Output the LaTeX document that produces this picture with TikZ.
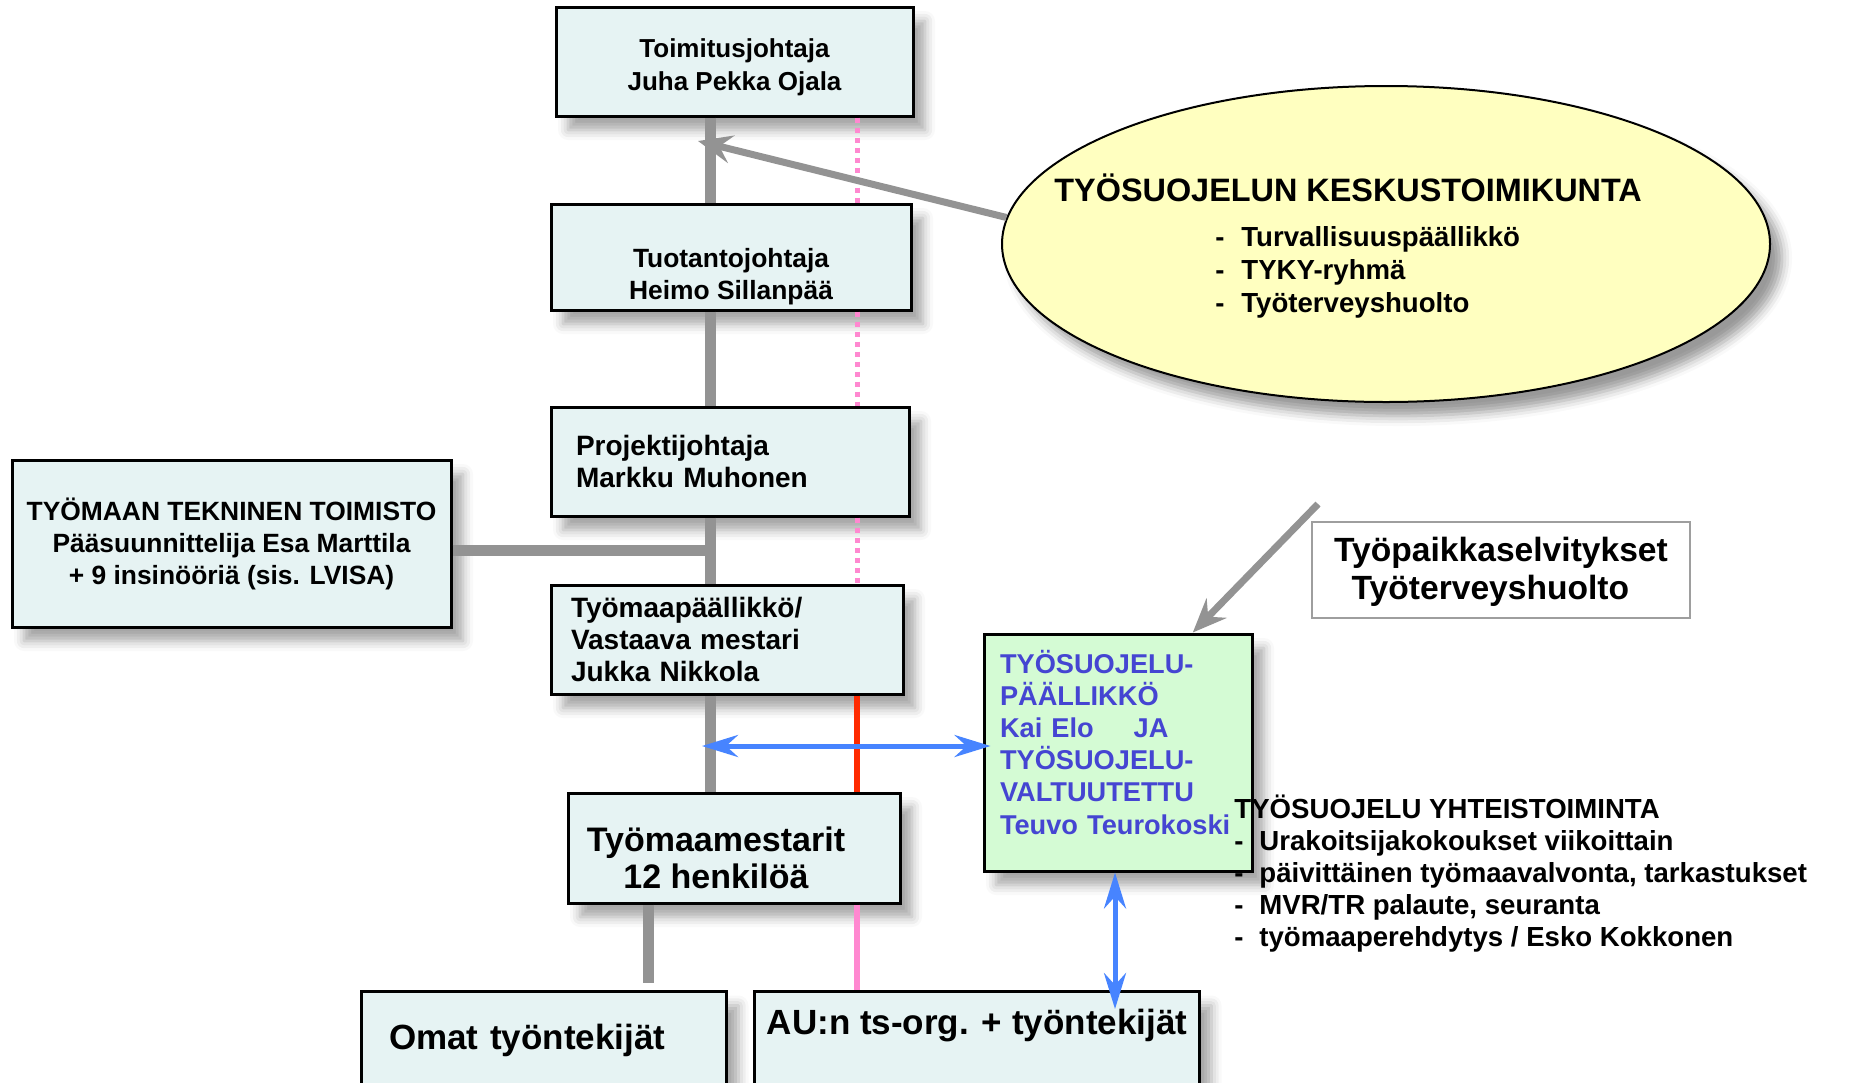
\documentclass[tikz,border=0pt]{standalone}
\usepackage{fontspec}
\setmainfont{Liberation Sans}
\usepackage{xcolor}
\definecolor{boxcyan}{HTML}{E6F3F3}
\definecolor{boxgreen}{HTML}{D4FBD4}
\definecolor{ellyellow}{HTML}{FFFFC0}
\definecolor{linegray}{HTML}{939393}
\definecolor{linepink}{HTML}{FF88D0}
\definecolor{linered}{HTML}{FF2A00}
\definecolor{arrowblue}{HTML}{4784FF}
\definecolor{textblue}{HTML}{4545D2}
\usetikzlibrary{arrows.meta,shapes.geometric,shadows.blur,calc,positioning}

\begin{document}
\begin{tikzpicture}[x=0.5pt,y=-0.5pt,font=\bfseries]
  \tikzstyle{org}=[draw=black,line width=1.5pt,fill=boxcyan,inner sep=0pt,
     blur shadow={shadow xshift=6pt,shadow yshift=-7pt,shadow blur radius=5pt,shadow opacity=35}]
  \tikzstyle{grayline}=[draw=linegray,line width=5.5pt]
  \tikzstyle{pinkdot}=[draw=linepink,line width=2.5pt,dash pattern=on 2.5pt off 2.5pt]
  \tikzstyle{pinkline}=[draw=linepink,line width=3pt]
  \tikzstyle{redline}=[draw=linered,line width=3pt]
  \tikzstyle{grayarrow}=[draw=linegray,line width=3.5pt,-{Stealth[length=17pt,width=14pt,inset=6pt]}]
  \tikzstyle{bluearrow}=[draw=arrowblue,line width=2.5pt,{Stealth[length=18pt,width=11pt,inset=6pt]}-{Stealth[length=18pt,width=11pt,inset=6pt]}]

  \useasboundingbox (0,0) rectangle (1850,1082);

  % ylin linja
  \node[org,minimum width=178.5pt,minimum height=54.5pt,align=center,text height=31.5pt,
        font=\bfseries\fontsize{13}{16.5}\selectfont] (toim) at (734.5,61.5)
        {Toimitusjohtaja\\Juha Pekka Ojala};
  \node[org,minimum width=180pt,minimum height=53pt,align=center,text height=45.6pt,
        font=\bfseries\fontsize{13.2}{16}\selectfont] (tuot) at (731,257)
        {Tuotantojohtaja\\Heimo Sillanpää};
  \node[org,minimum width=179pt,minimum height=54.5pt,text width=154pt,inner xsep=12.5pt,align=left,
        font=\bfseries\fontsize{14}{16}\selectfont] (proj) at (730,461.5)
        {Projektijohtaja\\Markku Muhonen};
  \node[org,minimum width=176pt,minimum height=54.5pt,text width=156pt,inner xsep=10pt,align=left,
        font=\bfseries\fontsize{14}{16}\selectfont] (tyom) at (727,639.5)
        {Työmaapäällikkö/\\Vastaava mestari\\Jukka Nikkola};
  \node[org,minimum width=166pt,minimum height=55pt,align=center,text height=40.4pt,
        font=\bfseries\fontsize{17}{18.5}\selectfont] (mest) at (734,848)
        {Työmaamestarit\hspace*{18pt}\\12 henkilöä\hspace*{18pt}};
  \node[org,anchor=north west,minimum width=182.5pt,text width=155pt,inner xsep=13.5pt,inner ysep=16.5pt,
        text depth=8pt,align=left,font=\bfseries\fontsize{17.5}{20}\selectfont] (omat) at (360,990)
        {Omat työntekijät};
  \node[org,anchor=north west,minimum width=222.5pt,inner ysep=9pt,text depth=30pt,
        font=\bfseries\fontsize{17.5}{20}\selectfont] (au) at (753,990)
        {AU:n ts-org. + työntekijät};

  % sivulla
  \node[org,minimum width=219.5pt,minimum height=83.5pt,align=center,
        font=\bfseries\fontsize{13.2}{16}\selectfont] (ttt) at (231.5,543.5)
        {TYÖMAAN TEKNINEN TOIMISTO\\Pääsuunnittelija Esa Marttila\\+ 9 insinööriä (sis. LVISA)};
  \node[ellipse,draw=black,line width=1pt,fill=ellyellow,minimum width=384pt,minimum height=158pt,inner sep=0pt,
        blur shadow={shadow xshift=6pt,shadow yshift=-7pt,shadow blur radius=5pt,shadow opacity=40}] (kesk) at (1386,244) {};
  \node[anchor=base west,align=left,inner sep=0pt,font=\bfseries\fontsize{13.8}{16.5}\selectfont] (kesktxt) at (1054,312)
        {{\fontsize{16.2}{16.5}\selectfont TYÖSUOJELUN KESKUSTOIMIKUNTA}\\[6pt]
         \hspace*{80.5pt}\makebox[13pt][l]{-}Turvallisuuspäällikkö\\
         \hspace*{80.5pt}\makebox[13pt][l]{-}TYKY-ryhmä\\
         \hspace*{80.5pt}\makebox[13pt][l]{-}Työterveyshuolto};
  \node[draw=linegray!90,line width=1.2pt,fill=white,minimum width=189pt,minimum height=48pt,align=center,
        text depth=2pt,font=\bfseries\fontsize{16.8}{19}\selectfont] (tpk) at (1501,570)
        {Työpaikkaselvitykset\\Työterveyshuolto\hspace*{10.6pt}};
  \node[org,fill=boxgreen,text=textblue,minimum width=134pt,minimum height=118.5pt,text width=118pt,
        inner xsep=8pt,align=left,text depth=91pt,font=\bfseries\fontsize{13.6}{16.1}\selectfont] (tsp) at (1118,752.5)
        {TYÖSUOJELU-\\PÄÄLLIKKÖ\\Kai Elo\hspace{20pt}JA\\TYÖSUOJELU-\\VALTUUTETTU\\Teuvo Teurokoski};
  \node[anchor=base west,align=left,inner sep=0pt,font=\bfseries\fontsize{13.8}{16}\selectfont] (yht) at (1234,946)
        {TYÖSUOJELU YHTEISTOIMINTA\\
         \makebox[12.5pt][l]{-}Urakoitsijakokoukset viikoittain\\
         \makebox[12.5pt][l]{-}päivittäinen työmaavalvonta, tarkastukset\\
         \makebox[12.5pt][l]{-}MVR/TR palaute, seuranta\\
         \makebox[12.5pt][l]{-}työmaaperehdytys / Esko Kokkonen};

  \coordinate (spine) at (710,0);
  \coordinate (rline) at (857,0);
  \coordinate (drop) at (648,0);
  \coordinate (ktip) at (698,141);
  \coordinate (tpstart) at (1318,504);
  \coordinate (bleft) at (702,746);
  \coordinate (bbot) at (1115,1009);

  \path (toim.south -| spine) edge[grayline] (tuot.north -| spine)
        (tuot.south -| spine) edge[grayline] (proj.north -| spine)
        (proj.south -| spine) edge[grayline] (tyom.north -| spine)
        (tyom.south -| spine) edge[grayline] (mest.north -| spine)
        ([yshift=-3.5pt]ttt.east) edge[grayline] ([yshift=-3.5pt]ttt.east -| spine)
        (mest.south -| drop) edge[grayline] ([yshift=3.5pt]omat.north -| drop);

  \path (toim.south -| rline) edge[pinkdot] (tuot.north -| rline)
        (tuot.south -| rline) edge[pinkdot] (proj.north -| rline)
        (proj.south -| rline) edge[pinkdot] (tyom.north -| rline)
        (tyom.south -| rline) edge[redline] (mest.north -| rline)
        (mest.south -| rline) edge[pinkline] (au.north -| rline);

  \path (kesk.176) edge[grayarrow] (ktip)
        (tpstart) edge[grayarrow] ($(tsp.north west)!0.776!(tsp.north east)$)
        (bleft) edge[bluearrow] ([xshift=4pt]bleft -| tsp.west)
        (bbot |- tsp.south) edge[bluearrow] (bbot);

\end{tikzpicture}
\end{document}
